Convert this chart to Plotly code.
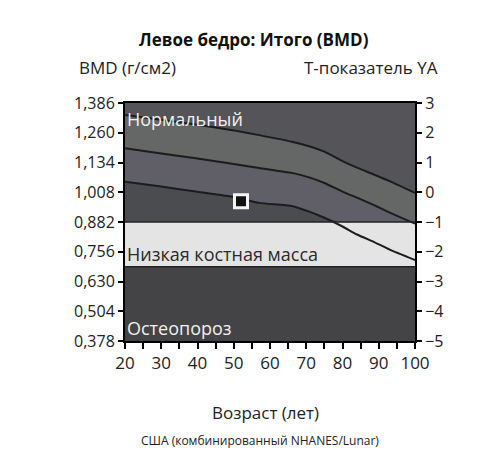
import plotly.graph_objects as go

# ---- data ----
ages = [20, 30, 40, 50, 57, 66, 71, 75, 80, 84, 89, 93, 100]
curve_plus1 = [1.335, 1.315, 1.294, 1.270, 1.250, 1.222, 1.202, 1.180, 1.140, 1.112, 1.081, 1.055, 1.005]
curve_mean = [1.194, 1.172, 1.151, 1.128, 1.111, 1.090, 1.070, 1.047, 1.011, 0.985, 0.951, 0.922, 0.875]
curve_minus1 = [1.053, 1.032, 1.010, 0.988, 0.963, 0.950, 0.925, 0.900, 0.863, 0.829, 0.795, 0.765, 0.721]

patient_age = [52]
patient_bmd = [0.970]

bmd_ticks = [0.378, 0.504, 0.630, 0.756, 0.882, 1.008, 1.134, 1.260, 1.386]
bmd_ticktext = ["0,378", "0,504", "0,630", "0,756", "0,882", "1,008", "1,134", "1,260", "1,386"]
t_ticks = [-5, -4, -3, -2, -1, 0, 1, 2, 3]
age_ticks = [20, 30, 40, 50, 60, 70, 80, 90, 100]

bmd_min, bmd_max = 0.378, 1.386
t_min, t_max = -5, 3
bmd_low = 0.882      # T = -1
bmd_osteo = 0.693    # T = -2.5

FONT = "Open Sans"
SMOOTH = dict(shape="spline", smoothing=0.5)

fig = go.Figure()

# region backgrounds
fig.add_shape(type="rect", xref="x", yref="y", x0=20, x1=100, y0=bmd_low, y1=bmd_max,
              fillcolor="#555458", line_width=0, layer="below")
fig.add_shape(type="rect", xref="x", yref="y", x0=20, x1=100, y0=bmd_osteo, y1=bmd_low,
              fillcolor="#e4e4e4", line_width=0, layer="below")
fig.add_shape(type="rect", xref="x", yref="y", x0=20, x1=100, y0=bmd_min, y1=bmd_osteo,
              fillcolor="#444446", line_width=0, layer="below")

clip = lambda arr: [max(v, bmd_low) for v in arr]

# band fills (clipped to the normal region)
fig.add_trace(go.Scatter(x=ages, y=clip(curve_plus1), mode="lines", line=dict(width=0, **SMOOTH),
                         hoverinfo="skip", showlegend=False))
fig.add_trace(go.Scatter(x=ages, y=clip(curve_mean), mode="lines", line=dict(width=0, **SMOOTH),
                         fill="tonexty", fillcolor="#646766", hoverinfo="skip", showlegend=False))
fig.add_trace(go.Scatter(x=ages, y=clip(curve_minus1), mode="lines", line=dict(width=0, **SMOOTH),
                         fill="tonexty", fillcolor="#605e66", hoverinfo="skip", showlegend=False))
fig.add_trace(go.Scatter(x=[20, 100], y=[bmd_low, bmd_low], mode="lines", line=dict(width=0),
                         fill="tonexty", fillcolor="#4b4c4f", hoverinfo="skip", showlegend=False))

# boundary lines
for yv in (bmd_low, bmd_osteo):
    fig.add_shape(type="line", xref="x", yref="y", x0=20, x1=100, y0=yv, y1=yv,
                  line=dict(color="#222222", width=1.5))

# reference curves
for c in (curve_plus1, curve_mean, curve_minus1):
    fig.add_trace(go.Scatter(x=ages, y=c, mode="lines", line=dict(color="#1c1c1c", width=2, **SMOOTH),
                             hoverinfo="skip", showlegend=False))

# patient marker
fig.add_trace(go.Scatter(x=patient_age, y=patient_bmd, mode="markers",
                         marker=dict(symbol="square", size=13, color="#111111",
                                     line=dict(color="#f4f4f4", width=3)),
                         showlegend=False))

# secondary axis dummy
fig.add_trace(go.Scatter(x=[20], y=[0], yaxis="y2", mode="markers",
                         marker=dict(opacity=0), hoverinfo="skip", showlegend=False))


def ann(text, x, y, size, color="#222222", xanchor="center"):
    return dict(text=text, xref="paper", yref="paper", x=x, y=y, xanchor=xanchor,
                yanchor="middle", showarrow=False,
                font=dict(size=size, color=color, family=FONT))


annotations = [
    ann("<b>Левое бедро: Итого (BMD)</b>", 0.445, 1.267, 17, "#111111"),
    ann("BMD (г/см2)", -0.165, 1.15, 17, xanchor="left"),
    ann("T-показатель YA", 1.085, 1.15, 17, xanchor="right"),
    ann("Нормальный", 0.0, 0.933, 18, "#f0f0f0", xanchor="left"),
    ann("Низкая костная масса", 0.0, 0.366, 18, "#2a2a2a", xanchor="left"),
    ann("Остеопороз", 0.0, 0.055, 18, "#f0f0f0", xanchor="left"),
    ann("Возраст (лет)", 0.486, -0.30, 17),
    ann("США (комбинированный NHANES/Lunar)", 0.465, -0.42, 12),
]

fig.update_layout(
    width=480, height=454,
    margin=dict(l=117, r=73, t=95, b=121),
    paper_bgcolor="white", plot_bgcolor="white",
    showlegend=False,
    annotations=annotations,
    font=dict(family=FONT, color="#222222"),
    xaxis=dict(range=[20, 100], tickvals=age_ticks, showgrid=False, zeroline=False,
               showline=True, linecolor="black", linewidth=2, mirror=True,
               ticks="outside", ticklen=6, tickwidth=2, tickcolor="black",
               minor=dict(dtick=5, tick0=20, ticks="outside", ticklen=6, tickwidth=2, tickcolor="black"),
               tickfont=dict(size=17, color="#222222")),
    yaxis=dict(range=[bmd_min, bmd_max], tickvals=bmd_ticks, ticktext=bmd_ticktext,
               showgrid=False, zeroline=False, showline=True, linecolor="black", linewidth=2,
               ticks="outside", ticklen=5, tickwidth=2, tickcolor="black",
               tickfont=dict(size=16, color="#222222")),
    yaxis2=dict(range=[t_min, t_max], tickvals=t_ticks, overlaying="y", side="right",
                showgrid=False, zeroline=False, showline=True, linecolor="black", linewidth=2,
                ticks="outside", ticklen=5, tickwidth=2, tickcolor="black",
                tickfont=dict(size=16, color="#222222")),
)

fig.write_html("out.html")
